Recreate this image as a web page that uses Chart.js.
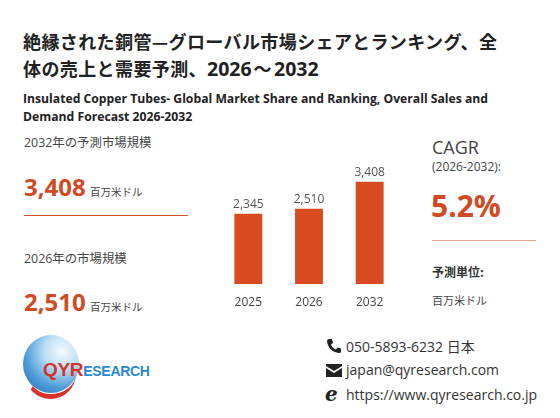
<!DOCTYPE html>
<html>
<head>
<meta charset="utf-8">
<script src="https://cdn.jsdelivr.net/npm/chart.js@4"></script>
<style>
  html, body { margin: 0; padding: 0; background: #fff; }
  body { width: 560px; height: 418px; position: relative; overflow: hidden;
         font-family: "Open Sans", "Noto Sans CJK JP", sans-serif; color: #333; }
  .abs { position: absolute; white-space: nowrap; }
  .title { left: 23px; top: 28px; font-family: "Noto Sans CJK JP", sans-serif; font-weight: bold;
           font-size: 18px; letter-spacing: 0.4px; line-height: 27px; color: #222; }
  .title .num { font-family: "Open Sans", sans-serif; font-size: 19.5px; letter-spacing: 0; }
  .sub { left: 23px; top: 90px; font-weight: bold; font-size: 12.2px; line-height: 18px; color: #222; }
  .lbl { font-family: "Open Sans", "Noto Sans CJK JP", sans-serif; font-size: 12.4px; color: #444; }
  .big { font-family: "Open Sans", sans-serif; font-weight: bold; color: #D04A24; }
  .unit { font-family: "Noto Sans CJK JP", sans-serif; font-size: 10.5px; color: #444; }
  .rule { position: absolute; height: 1px; background: #D05030; }
  #chartBox { position: absolute; left: 200px; top: 150px; width: 215px; height: 170px; }
  .contact { left: 346px; font-size: 14px; color: #333; }
</style>
</head>
<body>
<div class="abs title">絶縁された銅管—グローバル市場シェアとランキング、全<br>体の売上と需要予測、<span class="num">2026</span><span style="margin:0 2px;">～</span><span class="num">2032</span></div>
<div class="abs sub">Insulated Copper Tubes- Global Market Share and Ranking, Overall Sales and<br>Demand Forecast 2026-2032</div>

<div class="abs lbl" style="left:24px; top:133px;">2032年の予測市場規模</div>
<div class="abs" style="left:24px; top:170px;"><span class="big" style="font-size:24px;">3,408</span> <span class="unit">百万米ドル</span></div>
<div class="rule" style="left:24px; top:215px; width:164px;"></div>
<div class="abs lbl" style="left:24px; top:249px;">2026年の市場規模</div>
<div class="abs" style="left:24px; top:285px;"><span class="big" style="font-size:24px;">2,510</span> <span class="unit">百万米ドル</span></div>

<div id="chartBox"><canvas id="myChart"></canvas></div>

<div class="abs" style="left:432px; top:135px; font-size:18px; color:#444;">CAGR</div>
<div class="abs lbl" style="left:432px; top:158px; font-size:12px;">(2026-2032):</div>
<div class="abs big" style="left:431px; top:185px; font-size:30px;">5.2%</div>
<div class="rule" style="left:432px; top:240px; width:104px; background:#E3A08C;"></div>
<div class="abs" style="left:432px; top:263px; font-family:'Noto Sans CJK JP'; font-weight:bold; font-size:12px; color:#333;">予測単位:</div>
<div class="abs unit" style="left:432px; top:292px; font-size:11px;">百万米ドル</div>

<!-- logo -->
<div class="abs" style="left:23px; top:335px; width:56px; height:58px; border-radius:50%;
     background: radial-gradient(circle at 70% 28%, #f4fafe 0%, #bfe0f6 30%, #4c9ad8 65%, #1d66b0 100%);"></div>
<div class="abs" style="left:25px; top:366px; width:48px; height:28px; border-bottom:5px solid #d8322a;
     border-left:3px solid transparent; border-radius:0 0 30px 30px;"></div>
<div class="abs" style="left:43px; top:359px; font-family:'Liberation Sans', sans-serif; font-weight:bold; letter-spacing:-0.3px;">
  <span style="color:#d8322a; font-size:19px;">QYR</span><span style="color:#2a87d0; font-size:14px;">ESEARCH</span></div>

<!-- contact -->
<svg class="abs" style="left:326px; top:338px;" width="16" height="16" viewBox="0 0 16 16">
  <path d="M3 1 L6 1 L7 5 L5 6.5 C6 9 7.5 10.5 10 11.5 L11.5 9.5 L15 10.5 L15 13.5 C15 14.5 14 15 13 15 C6.5 14.5 1.5 9.5 1 3 C1 2 2 1 3 1 Z" fill="#222"/>
</svg>
<div class="abs contact" style="top:336px;">050-5893-6232 日本</div>
<svg class="abs" style="left:326px; top:364px;" width="16" height="13" viewBox="0 0 16 13">
  <path d="M0 0 H16 V2 L8 7 L0 2 Z M0 4 L8 9 L16 4 V13 H0 Z" fill="#222"/>
</svg>
<div class="abs contact" style="top:360px;">japan@qyresearch.com</div>
<div class="abs" style="left:325px; top:382px; font-family:'DejaVu Serif'; font-style:italic; font-weight:bold; font-size:20px; color:#222;">e</div>
<div class="abs contact" style="top:385px;">https://www.qyresearch.co.jp</div>

<script>
var years = ["2025", "2026", "2032"];
var marketSize = [2345, 2510, 3408];

// value labels over each bar
var valueLabels = {
  id: "valueLabels",
  afterDatasetsDraw: function (chart) {
    var ctx = chart.ctx;
    var meta = chart.getDatasetMeta(0);
    ctx.save();
    ctx.font = "12px 'Open Sans'";
    ctx.fillStyle = "#555";
    ctx.textAlign = "center";
    ctx.textBaseline = "bottom";
    meta.data.forEach(function (bar, i) {
      ctx.fillText(marketSize[i].toLocaleString("en-US"), bar.x, bar.y - 3);
    });
    ctx.restore();
  }
};

window.onload = function () {
  var ctx = document.getElementById("myChart").getContext("2d");
  var myChart = new Chart(ctx, {
    type: "bar",
    data: {
      labels: years,
      datasets: [
        {
          data: marketSize,
          backgroundColor: "#D84B20",
          barPercentage: 0.46,
          categoryPercentage: 1,
        },
      ],
    },
    options: {
      responsive: true,
      maintainAspectRatio: false,
      animation: false,
      layout: { padding: { left: 18, right: 15, top: 14, bottom: 7.6 } },
      plugins: { legend: { display: false }, tooltip: { enabled: false } },
      scales: {
        x: {
          grid: { display: false },
          border: { display: false },
          ticks: { color: "#444", font: { family: "Open Sans", size: 12 }, padding: 3 },
        },
        y: { display: false, min: 0, max: 4000 },
      },
    },
    plugins: [valueLabels],
  });
};
</script>
</body>
</html>
